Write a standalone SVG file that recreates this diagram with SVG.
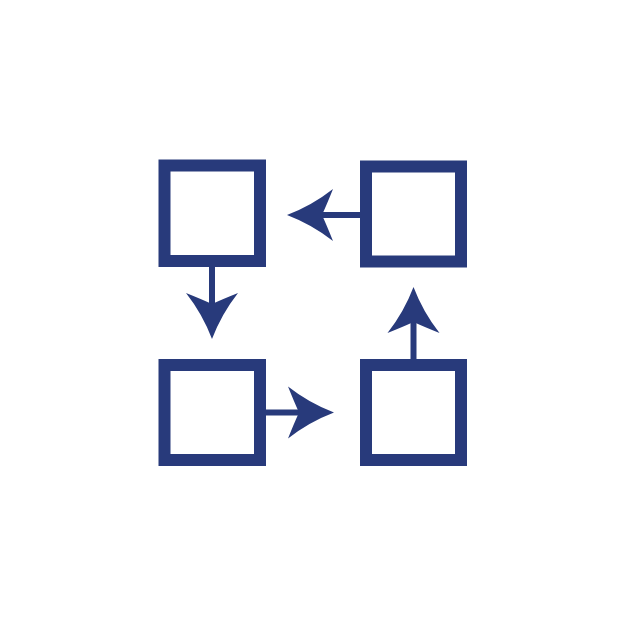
<svg xmlns="http://www.w3.org/2000/svg" xmlns:xlink="http://www.w3.org/1999/xlink" width="626" height="626" viewBox="0 0 626 626">
<style>
.box{fill:none;stroke:#283a7b;stroke-width:12}
.shaft{stroke:#283a7b;stroke-width:6;fill:none}
.head{fill:#283a7b}
</style>
<defs>
<path id="ah" class="head" d="M0,0 Q-25,-9.5 -46,-26 Q-40,-11 -35,0 Q-40,11 -46,26 Q-25,9.5 0,0 Z"/>
</defs>
<rect width="626" height="626" fill="#ffffff"/>
<g id="node-tl"><rect class="box" x="164.5" y="165.5" width="95.5" height="95.5"/></g>
<g id="node-tr"><rect class="box" x="366" y="166.5" width="95" height="95"/></g>
<g id="node-bl"><rect class="box" x="164.5" y="365" width="95.5" height="95"/></g>
<g id="node-br"><rect class="box" x="366" y="365" width="95" height="95"/></g>
<g id="connectors">
<line class="shaft" x1="212" y1="266" x2="212" y2="306"/>
<use xlink:href="#ah" href="#ah" transform="translate(212,339) rotate(90)"/>
<line class="shaft" x1="360" y1="215" x2="320" y2="215"/>
<use xlink:href="#ah" href="#ah" transform="translate(287,215) rotate(180)"/>
<line class="shaft" x1="266" y1="412.5" x2="301" y2="412.5"/>
<use xlink:href="#ah" href="#ah" transform="translate(334,412.5)"/>
<line class="shaft" x1="413.5" y1="359" x2="413.5" y2="320"/>
<use xlink:href="#ah" href="#ah" transform="translate(413.5,287) rotate(-90)"/>
</g>
</svg>
